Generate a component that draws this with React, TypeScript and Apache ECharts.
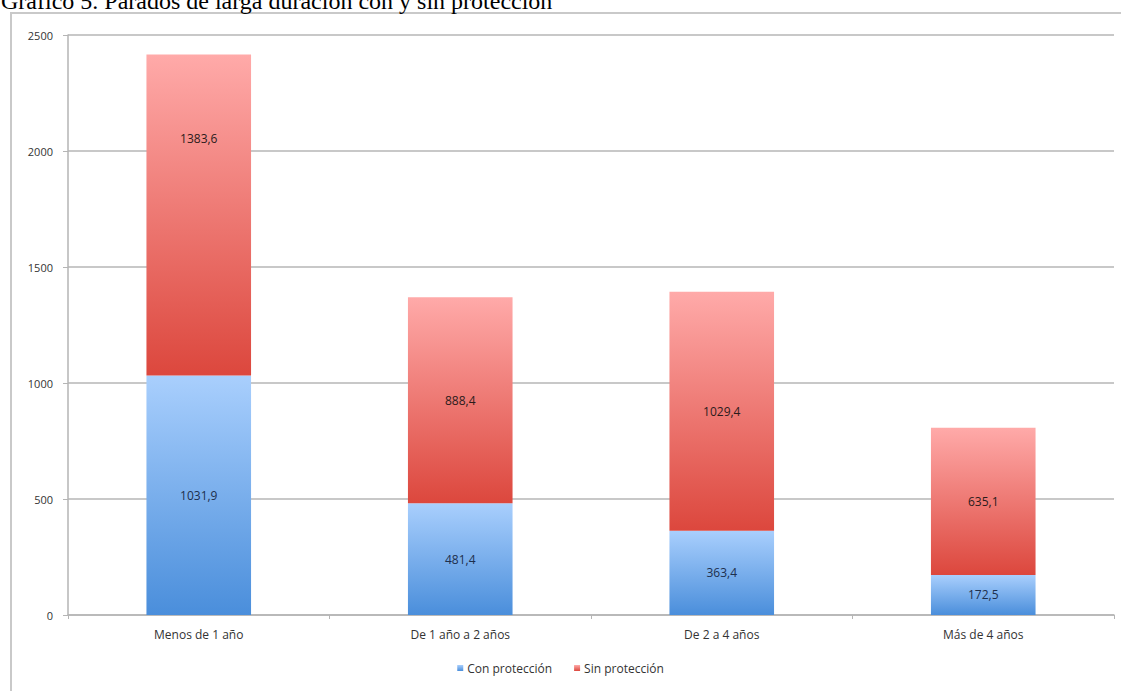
import React, { useEffect, useRef } from "react";
import * as echarts from "echarts";

// Long-term unemployed, thousands, by duration of unemployment
const categories = ["Menos de 1 año", "De 1 año a 2 años", "De 2 a 4 años", "Más de 4 años"];
const conProteccion = [1031.9, 481.4, 363.4, 172.5];
const sinProteccion = [1383.6, 888.4, 1029.4, 635.1];
const seriesNames = ["Con protección", "Sin protección"];
const yTicks = { min: 0, max: 2500, interval: 500 };
const title = "Gráfico 5. Parados de larga duración con y sin protección";

const FONT = '"Open Sans", "Noto Sans", sans-serif';

const fmt = (v: number) => v.toFixed(1).replace(".", ",");

const grad = (top: string, bottom: string) =>
  new echarts.graphic.LinearGradient(0, 0, 0, 1, [
    { offset: 0, color: top },
    { offset: 1, color: bottom },
  ]);

export default function App() {
  const ref = useRef<HTMLDivElement>(null);

  useEffect(() => {
    document.body.style.margin = "0";
    if (!ref.current) return;
    const chart = echarts.init(ref.current, undefined, { renderer: "svg" });

    const labelBase = {
      show: true,
      position: "inside" as const,
      fontFamily: FONT,
      fontSize: 12,
      formatter: (p: any) => fmt(Number(p.value)),
    };

    chart.setOption({
      animation: false,
      backgroundColor: "#ffffff",
      textStyle: { fontFamily: FONT },
      graphic: [
        {
          type: "rect",
          shape: { x: 11, y: 13, width: 1300, height: 900 },
          style: { fill: "none", stroke: "#c9c9c9", lineWidth: 2 },
          silent: true,
          z: -1,
        },
        {
          type: "text",
          x: 1,
          y: 13,
          style: {
            text: title,
            font: '24px "Liberation Serif", "Times New Roman", serif',
            fill: "#000000",
            verticalAlign: "bottom",
          },
          silent: true,
        },
      ],
      grid: { left: 68, right: 7, top: 35, bottom: 76 },
      legend: {
        bottom: 12,
        left: "center",
        icon: "rect",
        itemWidth: 6,
        itemHeight: 6,
        itemGap: 22,
        textStyle: { fontFamily: FONT, fontSize: 12, color: "#333333", padding: [0, 0, 0, -1] },
        data: seriesNames,
      },
      xAxis: {
        type: "category",
        data: categories,
        boundaryGap: true,
        axisLine: { show: true, lineStyle: { color: "#b5b5b5", width: 1.5 } },
        axisTick: { show: true, length: 4, lineStyle: { color: "#b5b5b5" } },
        axisLabel: { fontFamily: FONT, fontSize: 12, color: "#333333", margin: 13 },
      },
      yAxis: {
        type: "value",
        min: yTicks.min,
        max: yTicks.max,
        interval: yTicks.interval,
        axisLine: { show: true, lineStyle: { color: "#b5b5b5", width: 1.5 } },
        axisTick: { show: true, length: 5, lineStyle: { color: "#b5b5b5" } },
        axisLabel: {
          fontFamily: FONT,
          fontSize: 11,
          color: "#333333",
          margin: 15,
          formatter: (v: number) => String(v),
        },
        splitLine: { show: true, lineStyle: { color: "#c8c8c8", width: 2 } },
      },
      series: [
        {
          name: seriesNames[0],
          type: "bar",
          stack: "total",
          barWidth: "40%",
          data: conProteccion,
          itemStyle: { color: grad("#a9cffd", "#4a8edb") },
          label: { ...labelBase, color: "#1d2f4d" },
        },
        {
          name: seriesNames[1],
          type: "bar",
          stack: "total",
          barWidth: "40%",
          data: sinProteccion.map((v, i) =>
            i === 0 ? { value: v, label: { offset: [0, -77] } } : { value: v }
          ),
          itemStyle: { color: grad("#ffaaa9", "#dc473d") },
          label: { ...labelBase, color: "#2b1b1b" },
        },
      ],
    });

    return () => chart.dispose();
  }, []);

  return (
    <div
      ref={ref}
      style={{ position: "absolute", left: 0, top: 0, width: 1121, height: 691 }}
    />
  );
}
